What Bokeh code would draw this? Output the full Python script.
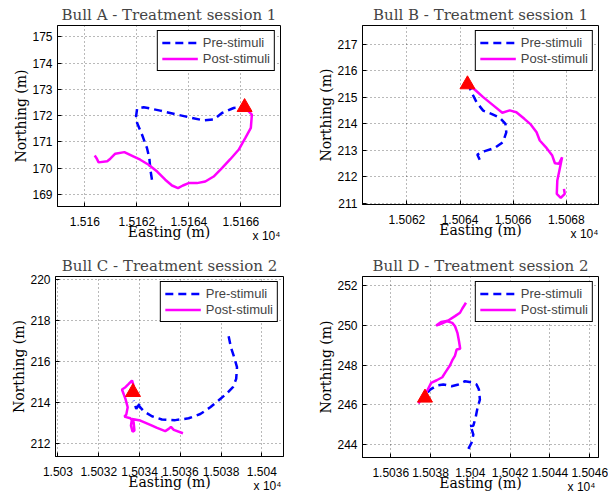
from bokeh.plotting import figure
from bokeh.layouts import column, row
from bokeh.models import FixedTicker, LinearAxis, Range1d
from bokeh.embed import file_html
from bokeh.resources import INLINE

# ---------------- data (Easting / Northing in metres) ----------------
# Bull A - Treatment session 1
a_pre_e = [15162.58, 15162.52, 15162.48, 15162.39, 15162.20, 15162.01, 15161.97, 15162.01,
           15162.26, 15162.90, 15163.54, 15164.12, 15164.56, 15164.95, 15165.27, 15165.72, 15166.14]
a_pre_n = [169.56, 169.94, 170.38, 170.76, 171.27, 171.72, 171.97, 172.27,
           172.32, 172.19, 172.04, 171.91, 171.82, 171.85, 172.10, 172.29, 172.32]
a_post_e = [15166.14, 15166.42, 15166.38, 15166.17, 15165.91, 15165.59, 15165.27, 15164.95,
            15164.63, 15164.31, 15163.99, 15163.77, 15163.58, 15163.35, 15163.09, 15162.78,
            15162.45, 15162.13, 15161.82, 15161.52, 15161.17, 15160.98, 15160.86, 15160.53,
            15160.45, 15160.38]
a_post_n = [172.32, 172.04, 171.53, 171.15, 170.70, 170.34, 170.00, 169.68,
            169.49, 169.43, 169.43, 169.34, 169.24, 169.34, 169.56, 169.87,
            170.13, 170.32, 170.47, 170.61, 170.55, 170.36, 170.26, 170.22,
            170.38, 170.48]
a_stim = [15166.14, 172.32]
a_xticks = [15160, 15162, 15164, 15166]
a_xlabels = ["1.516", "1.5162", "1.5164", "1.5166"]
a_yticks = [169, 170, 171, 172, 173, 174, 175]

# Bull B - Treatment session 1
b_pre_e = [15064.74, 15064.65, 15064.93, 15065.31, 15065.62, 15065.74, 15065.71, 15065.50,
           15065.18, 15064.87, 15064.62, 15064.43, 15064.33]
b_pre_n = [212.64, 212.84, 212.97, 213.09, 213.31, 213.68, 214.00, 214.23,
           214.38, 214.50, 214.82, 215.20, 215.45]
b_post_e = [15064.30, 15064.56, 15064.87, 15065.25, 15065.59, 15065.87, 15066.12, 15066.42,
            15066.66, 15066.88, 15067.00, 15067.26, 15067.47, 15067.57, 15067.72, 15067.84,
            15067.75, 15067.66, 15067.64, 15067.79, 15067.94, 15067.91]
b_post_n = [215.45, 215.29, 215.01, 214.70, 214.42, 214.51, 214.44, 214.19,
            213.98, 213.68, 213.37, 213.08, 212.80, 212.51, 212.49, 212.74,
            212.29, 211.86, 211.35, 211.20, 211.35, 211.54]
b_stim = [15064.28, 215.49]
b_xticks = [15062, 15064, 15066, 15068]
b_xlabels = ["1.5062", "1.5064", "1.5066", "1.5068"]
b_yticks = [211, 212, 213, 214, 215, 216, 217]

# Bull C - Treatment session 2
c_pre_e = [15038.37, 15038.48, 15038.64, 15038.78, 15038.74, 15038.58, 15038.25, 15037.87,
           15037.47, 15036.98, 15036.41, 15035.75, 15035.10, 15034.61, 15034.20, 15033.96,
           15034.04, 15033.84, 15033.71]
c_pre_n = [217.24, 216.70, 216.21, 215.72, 215.15, 214.74, 214.41, 214.09,
           213.76, 213.43, 213.22, 213.13, 213.16, 213.32, 213.57, 213.84,
           214.01, 213.68, 214.09]
c_post_e = [15033.68, 15033.71, 15033.63, 15033.47, 15033.31, 15033.14, 15033.31, 15033.42,
            15033.35, 15033.26, 15033.55, 15033.71, 15033.75, 15033.66, 15033.58, 15033.63,
            15034.04, 15034.53, 15034.86, 15035.26, 15035.43, 15035.54, 15035.68, 15036.13]
c_post_n = [214.50, 214.82, 215.07, 214.90, 214.74, 214.63, 214.17, 213.76,
            213.40, 213.30, 213.22, 213.03, 212.62, 212.57, 212.86, 213.19,
            213.11, 212.90, 212.75, 212.59, 212.70, 212.80, 212.65, 212.49]
c_stim = [15033.68, 214.50]
c_xticks = [15030, 15032, 15034, 15036, 15038, 15040]
c_xlabels = ["1.503", "1.5032", "1.5034", "1.5036", "1.5038", "1.504"]
c_yticks = [212, 214, 216, 218, 220]

# Bull D - Treatment session 2
d_pre_e = [15039.90, 15040.06, 15040.15, 15040.06, 15039.93, 15040.15, 15040.26, 15040.36,
           15040.48, 15040.43, 15040.31, 15040.06, 15039.73, 15039.40, 15039.06, 15038.64,
           15038.31, 15037.98, 15037.76]
d_pre_n = [243.79, 244.10, 244.51, 244.80, 244.93, 244.96, 245.35, 245.85,
           246.27, 246.77, 247.03, 247.14, 247.19, 247.03, 246.94, 247.03,
           246.97, 246.77, 246.52]
d_post_e = [15037.39, 15037.64, 15037.86, 15038.03, 15038.31, 15038.59, 15038.76, 15038.98,
            15039.11, 15039.23, 15039.31, 15039.49, 15039.43, 15039.35, 15039.23, 15039.09,
            15038.81, 15038.53, 15038.28, 15038.56, 15038.89, 15039.23, 15039.48, 15039.59,
            15039.78]
d_post_n = [246.07, 246.44, 246.77, 247.11, 247.24, 247.39, 247.66, 247.99,
            248.28, 248.48, 248.78, 248.82, 249.20, 249.62, 249.95, 250.12,
            250.21, 250.16, 249.99, 250.09, 250.24, 250.46, 250.63, 250.83,
            251.13]
d_stim = [15037.72, 246.36]
d_xticks = [15036, 15038, 15040, 15042, 15044, 15046]
d_xlabels = ["1.5036", "1.5038", "1.504", "1.5042", "1.5044", "1.5046"]
d_yticks = [244, 246, 248, 250, 252]

titles = ["Bull A - Treatment session 1", "Bull B - Treatment session 1",
          "Bull C - Treatment session 2", "Bull D - Treatment session 2"]
x_label = "Easting (m)"
y_label = "Northing (m)"
legend_labels = ["Pre-stimuli", "Post-stimuli"]
exponent_label = "x 10\u2074"

SERIF = "DejaVu Serif"
SANS = "Liberation Sans"


def panel(title, pre_e, pre_n, post_e, post_n, stim, xr, yr, xt, xl, yt,
          frame, borders, exp_shift):
    fw, fh = frame
    bl, br, bt, bb = borders
    p = figure(frame_width=fw, frame_height=fh, x_range=Range1d(*xr), y_range=Range1d(*yr),
               output_backend="svg", toolbar_location=None,
               min_border_left=bl, min_border_right=br,
               min_border_top=bt, min_border_bottom=bb)
    p.title.text = title
    p.title.text_font = SERIF
    p.title.text_font_size = "15px"
    p.title.text_font_style = "normal"
    p.title.align = "center"
    p.title.vertical_align = "middle"
    p.title.standoff = 2
    p.title.offset = 0

    p.outline_line_color = "black"
    p.outline_line_width = 1
    p.outline_line_alpha = 1
    p.background_fill_color = "white"
    p.border_fill_color = "white"

    p.xaxis.ticker = FixedTicker(ticks=xt)
    p.xaxis.major_label_overrides = {t: l for t, l in zip(xt, xl)}
    p.yaxis.ticker = FixedTicker(ticks=yt)
    for ax in (p.xaxis[0], p.yaxis[0]):
        ax.major_tick_in = 4
        ax.major_tick_out = 0
        ax.minor_tick_line_color = None
        ax.axis_line_color = "black"
        ax.major_tick_line_color = "black"
        ax.major_label_text_font = SANS
        ax.major_label_text_font_size = "12px"
        ax.major_label_text_color = "black"
        ax.axis_label_text_font = SERIF
        ax.axis_label_text_font_size = "14px"
        ax.axis_label_text_font_style = "normal"
        ax.axis_label_text_color = "black"
    p.xaxis.major_label_standoff = 10
    p.yaxis.major_label_standoff = 5
    p.yaxis.axis_label_standoff = 0
    p.yaxis.axis_label = y_label

    # second axis below: carries the "x 10^4" multiplier and the Easting label
    x_exp = round(xr[1] - exp_shift * (xr[1] - xr[0]) / fw, 3)
    ax2 = LinearAxis(ticker=FixedTicker(ticks=[x_exp]),
                     major_label_overrides={x_exp: exponent_label},
                     axis_label=x_label)
    ax2.axis_line_color = None
    ax2.major_tick_line_color = None
    ax2.minor_tick_line_color = None
    ax2.major_label_text_font = SANS
    ax2.major_label_text_font_size = "12px"
    ax2.major_label_text_color = "black"
    ax2.major_label_standoff = -6
    ax2.axis_label_text_font = SERIF
    ax2.axis_label_text_font_size = "14px"
    ax2.axis_label_text_font_style = "normal"
    ax2.axis_label_text_color = "black"
    ax2.axis_label_standoff = -22
    p.add_layout(ax2, "below")

    for g in (p.xgrid[0], p.ygrid[0]):
        g.grid_line_color = "black"
        g.grid_line_alpha = 0.55
        g.grid_line_dash = "1 3"
        g.grid_line_width = 1

    p.line(pre_e, pre_n, line_color="#0000ff", line_width=2.5, line_dash="8 5",
           legend_label=legend_labels[0])
    p.line(post_e, post_n, line_color="#ff00ff", line_width=2.5,
           legend_label=legend_labels[1])
    p.scatter([stim[0]], [stim[1]], marker="triangle", size=15,
              fill_color="#ff0000", line_color="#ff0000")

    lg = p.legend[0]
    lg.location = "top_right"
    lg.margin = 5
    lg.padding = 4
    lg.spacing = 1
    lg.glyph_width = 36
    lg.glyph_height = 13
    lg.label_height = 13
    lg.label_standoff = 5
    lg.label_text_font = SANS
    lg.label_text_font_size = "13px"
    lg.border_line_color = "black"
    lg.border_line_width = 1
    lg.border_line_alpha = 1
    lg.background_fill_alpha = 1
    return p


pa = panel(titles[0], a_pre_e, a_pre_n, a_post_e, a_post_n, a_stim,
           (15158.95, 15167.52), (168.54, 175.43), a_xticks, a_xlabels, a_yticks,
           (223, 181), (57, 28, 24, 43), 14)
pb = panel(titles[1], b_pre_e, b_pre_n, b_post_e, b_post_n, b_stim,
           (15060.33, 15069.21), (210.95, 217.72), b_xticks, b_xlabels, b_yticks,
           (236, 179), (54, 10, 25, 44), 14)
pc = panel(titles[2], c_pre_e, c_pre_n, c_post_e, c_post_n, c_stim,
           (15029.88, 15041.06), (211.35, 220.16), c_xticks, c_xlabels, c_yticks,
           (228, 180), (55, 25, 28, 38), 16)
pd = panel(titles[3], d_pre_e, d_pre_n, d_post_e, d_post_n, d_stim,
           (15034.58, 15046.44), (243.36, 252.45), d_xticks, d_xlabels, d_yticks,
           (236, 181), (54, 10, 27, 38), 17)

layout = column(row(pa, pb), row(pc, pd))
open("out.html", "w").write(file_html(layout, INLINE))
